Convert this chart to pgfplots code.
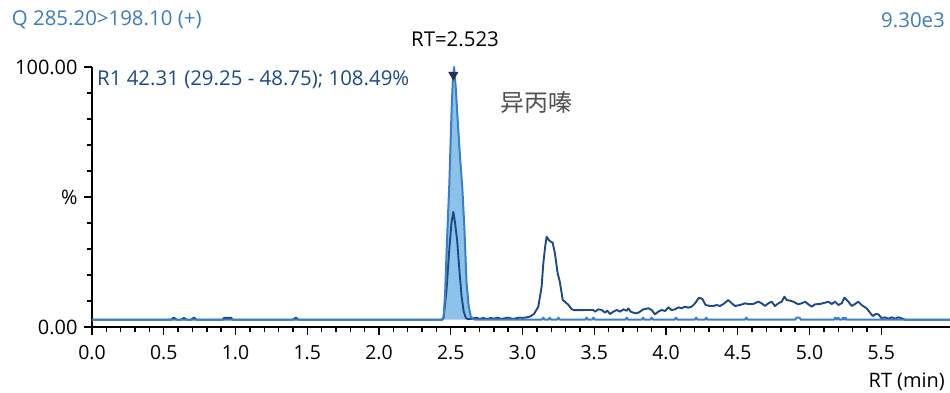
\documentclass[border=0pt]{standalone}
\usepackage{fontspec}
\setmainfont{Open Sans}
\newfontfamily\cjk{Noto Sans CJK SC}
\usepackage{pgfplots}
\pgfplotsset{compat=1.18}
\definecolor{hdrblue}{HTML}{3A7CC2}
\definecolor{navy}{HTML}{1D4A87}
\definecolor{lblue}{HTML}{3A80C8}
\definecolor{fillblue}{HTML}{8DC2EB}
\definecolor{tri}{HTML}{26305A}
\definecolor{cgray}{HTML}{505050}
\begin{document}
\begin{tikzpicture}[x=1bp,y=1bp]
\path[use as bounding box] (-92,-65) rectangle (858,327);
\begin{axis}[
  scale only axis,
  width=858bp, height=260bp,
  at={(0,0)}, anchor=origin,
  xmin=0, xmax=5.979, ymin=0, ymax=100,
  axis x line=bottom, axis y line=left,
  axis line style={-, line width=2.2bp, black},
  clip=false,
  xtick={0,0.5,...,5.5},
  minor x tick num=4,
  ytick={0,50,100},
  yticklabels={0.00,\%,100.00},
  minor y tick num=4,
  tick align=outside,
  major tick length=8bp, minor tick length=5bp,
  every tick/.style={black, line width=1.4bp},
  xticklabel style={/pgf/number format/fixed,/pgf/number format/fixed zerofill,/pgf/number format/precision=1, font=\fontsize{19.5}{22}\selectfont, yshift=-7bp},
  yticklabel style={font=\fontsize{20}{22}\selectfont, xshift=-3bp},
  /pgf/number format/assume math mode=true,
  tick label style={black},
]
% light peak fill
\addplot[fill=fillblue, draw=none] coordinates {
(2.44,2.8) (2.45,4) (2.46,12) (2.475,35) (2.49,55) (2.505,82) (2.515,96) (2.523,100) (2.535,92) (2.55,78) (2.565,65) (2.58,54) (2.595,38) (2.61,17) (2.625,8) (2.64,4) (2.66,3.0) (2.67,2.8)
};
% dark trace
\addplot[navy, line width=1.9bp, line join=round] coordinates {
(0,2.8) (0.55,2.8) (0.57,3.6) (0.59,2.8) (0.62,2.8) (0.64,3.5) (0.66,2.8) (0.69,2.8) (0.71,3.6) (0.73,2.8) (0.91,2.8) (0.92,3.5) (0.97,3.5) (0.98,2.8) (1.40,2.8) (1.42,3.6) (1.44,2.8) (2.44,2.8)
(2.45,3.5) (2.47,14) (2.49,30) (2.505,40) (2.518,44.3) (2.53,40) (2.545,33) (2.56,22) (2.575,12) (2.59,6) (2.605,3.5) (2.62,3.0)
(2.65,3.2) (2.68,3.6) (2.70,3.1) (2.73,3.5) (2.75,3.0) (2.78,3.5) (2.80,3.2) (2.83,3.6) (2.85,3.1) (2.88,3.4) (2.9,3.6) (2.93,3.1) (2.95,3.3) (2.98,3.6) (3.0,3.5) (3.03,3.7) (3.05,4.0) (3.08,5.0) (3.11,7.8) (3.133,15.5) (3.145,24.5) (3.158,31) (3.168,34.7) (3.187,33.2) (3.21,32.4) (3.226,28.3) (3.245,20.6) (3.26,17.4) (3.28,10.4) (3.296,9.7) (3.32,8.5) (3.343,6.8) (3.36,6.5) (3.494,6.54)
(3.505,5.90) (3.528,6.79) (3.552,6.54) (3.575,5.51) (3.591,6.28) (3.610,5.0) (3.633,5.90) (3.656,6.54) (3.680,5.90) (3.703,6.79) (3.726,6.28) (3.737,7.18) (3.754,5.90) (3.772,5.51) (3.796,5.26) (3.819,5.90) (3.842,6.79) (3.877,7.18) (3.900,6.54) (3.923,4.87) (3.946,5.90) (3.970,6.54) (3.993,6.15) (4.016,7.56) (4.039,6.54) (4.063,6.79) (4.086,7.56) (4.109,7.18) (4.132,7.82) (4.156,7.44) (4.179,7.82) (4.202,9.10) (4.230,11.28) (4.253,10.77) (4.276,8.46) (4.307,8.08) (4.330,8.08) (4.353,8.46) (4.376,8.08) (4.400,8.85) (4.434,10.38) (4.458,9.10) (4.481,8.08) (4.516,8.46) (4.550,9.10) (4.574,8.85) (4.608,8.85) (4.643,9.74) (4.666,9.10) (4.690,8.08) (4.713,9.10) (4.736,9.74) (4.759,8.08) (4.783,9.10) (4.806,9.74) (4.825,11.67) (4.841,10.38) (4.864,10.13) (4.887,9.74) (4.922,8.72) (4.945,9.10) (4.969,9.74) (4.992,8.72) (5.015,7.82) (5.038,8.72) (5.073,8.85) (5.108,9.36) (5.131,9.74) (5.155,8.85) (5.178,9.74) (5.201,8.46) (5.224,9.10) (5.243,11.28) (5.271,9.74) (5.294,8.08) (5.317,8.85) (5.340,9.74) (5.363,8.46) (5.398,7.18) (5.422,5.51) (5.440,4.23) (5.463,5.0) (5.480,4.87) (5.503,3.33) (5.526,3.72) (5.549,3.21) (5.573,3.72) (5.596,3.21) (5.619,3.72) (5.642,3.33) (5.666,2.8) (5.979,2.8)
};
% light trace
\addplot[lblue, line width=2bp, line join=round] coordinates {
(0,2.8) (2.44,2.8) (2.45,4) (2.46,12) (2.475,35) (2.49,55) (2.505,82) (2.515,96) (2.523,100) (2.535,92) (2.55,78) (2.565,65) (2.58,54) (2.595,38) (2.61,17) (2.625,8) (2.64,4) (2.66,3.0) (2.67,2.8)
(3.135,2.8) (3.145,3.6) (3.155,2.8) (3.18,2.8) (3.19,3.6) (3.20,2.8) (3.24,2.8) (3.25,3.6) (3.26,2.8)
(3.437,2.8) (3.447,3.6) (3.457,2.8) (3.484,2.8) (3.494,3.6) (3.504,2.8) (3.716,2.8) (3.726,3.6) (3.736,2.8)
(3.83,2.8) (3.84,3.6) (3.85,2.8) (3.89,2.8) (3.90,3.6) (3.91,2.8) (4.06,2.8) (4.07,3.6) (4.08,2.8)
(4.20,2.8) (4.21,3.6) (4.22,2.8) (4.27,2.8) (4.28,3.6) (4.29,2.8) (4.55,2.8) (4.56,3.6) (4.57,2.8)
(4.90,2.8) (4.91,3.6) (4.93,3.6) (4.94,2.8) (5.17,2.8) (5.18,3.6) (5.19,2.8) (5.20,3.6) (5.21,2.8)
(5.225,2.8) (5.235,3.6) (5.245,2.8) (5.25,3.6) (5.26,2.8) (5.979,2.8)
};
% apex marker
\addplot[only marks, mark=triangle*, mark size=5.5bp, tri, mark options={rotate=180}] coordinates {(2.518,97)};
\end{axis}
\node[anchor=west, text=hdrblue, font=\fontsize{20.5}{24}\selectfont, inner sep=0] at (-80.3,307) {Q 285.20>198.10 (+)};
\node[anchor=east, text=hdrblue, font=\fontsize{20.5}{24}\selectfont, inner sep=0] at (853,307) {9.30e3};
\node[anchor=center, text=black, font=\fontsize{20.5}{24}\selectfont, inner sep=0] at (363,288) {RT=2.523};
\node[anchor=west, text=navy, font=\fontsize{20.5}{24}\selectfont, inner sep=0] at (5,247) {R1 42.31 (29.25 - 48.75); 108.49\%};
\node[anchor=west, text=cgray, font=\cjk\fontsize{24}{28}\selectfont, inner sep=0] at (408,225) {异丙嗪};
\node[anchor=east, text=black, font=\fontsize{20}{24}\selectfont, inner sep=0] at (853,-55) {RT (min)};
\end{tikzpicture}
\end{document}
